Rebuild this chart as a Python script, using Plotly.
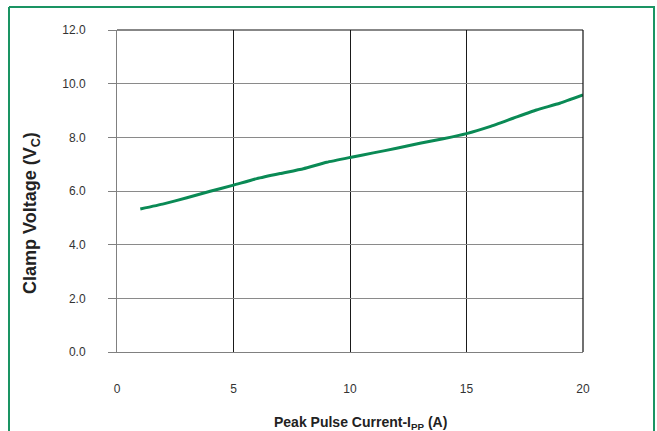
import plotly.graph_objects as go

current = [1, 2, 3, 4, 5, 6, 7, 8, 9, 10, 11, 12, 13, 14, 15, 16, 17, 18, 19, 20]
clamp_v = [5.33, 5.52, 5.75, 5.99, 6.22, 6.46, 6.65, 6.83, 7.07, 7.25,
           7.42, 7.59, 7.78, 7.95, 8.14, 8.40, 8.71, 9.02, 9.27, 9.58]
x_ticks = [0, 5, 10, 15, 20]
y_ticks = [0, 2, 4, 6, 8, 10, 12]
y_tick_text = ["0.0", "2.0", "4.0", "6.0", "8.0", "10.0", "12.0"]
x_title = "<b>Peak Pulse Current-I<sub>PP</sub> (A)</b>"
y_title = "<b>Clamp Voltage (V<sub>C</sub>)</b>"

W, H = 657, 431
L, R, T, B = 117, 74, 30, 79
pw, ph = W - L - R, H - T - B

def px(xp):
    return (xp - L) / pw

def py(yp):
    return (H - B - yp) / ph

fig = go.Figure()
fig.add_trace(go.Scatter(x=current, y=clamp_v, mode="lines",
                         line=dict(color="#0a8a55", width=3, shape="spline", smoothing=0.4),
                         showlegend=False, hoverinfo="skip"))

font_fam = "Liberation Sans, Arial, sans-serif"
border = dict(color="#1a9463", width=2)
fig.update_layout(
    width=W, height=H,
    margin=dict(l=L, r=R, t=T, b=B, autoexpand=False),
    paper_bgcolor="white", plot_bgcolor="white",
    font=dict(family=font_fam, size=12, color="#333333"),
    xaxis=dict(range=[0, 20], tickvals=x_ticks, showgrid=True, gridcolor="#1a1a1a", gridwidth=1,
               zeroline=False, showline=True, linecolor="#808080", linewidth=1, automargin=False,
               ticks="", ticklabelstandoff=26, tickfont=dict(family=font_fam, size=12, color="#333333")),
    yaxis=dict(range=[0, 12], tickvals=y_ticks, ticktext=y_tick_text, showgrid=True,
               gridcolor="#8a8a8a", gridwidth=1, zeroline=False, showline=True, automargin=False,
               linecolor="#808080", linewidth=1, ticks="outside", ticklen=8, tickcolor="#808080",
               ticklabelstandoff=20, tickfont=dict(family=font_fam, size=12, color="#333333")),
    annotations=[
        dict(text=x_title, xref="paper", yref="paper", x=px(360), y=py(422.5),
             xanchor="center", yanchor="middle", showarrow=False,
             font=dict(family=font_fam, size=14, color="#222222")),
        dict(text=y_title, xref="paper", yref="paper", x=px(31), y=py(213),
             xanchor="center", yanchor="middle", showarrow=False, textangle=-90,
             font=dict(family=font_fam, size=18, color="#222222")),
    ],
    shapes=[
        dict(type="line", xref="paper", yref="paper", x0=0, x1=1, y0=1, y1=1,
             line=dict(color="#111111", width=1.2)),
        dict(type="line", xref="paper", yref="paper", x0=1, x1=1, y0=0, y1=1,
             line=dict(color="#111111", width=1.2)),
        dict(type="line", xref="paper", yref="paper", x0=px(9), x1=px(655), y0=py(7), y1=py(7),
             line=border, layer="above"),
        dict(type="line", xref="paper", yref="paper", x0=px(9), x1=px(9), y0=py(7), y1=py(432),
             line=border, layer="above"),
        dict(type="line", xref="paper", yref="paper", x0=px(654), x1=px(654), y0=py(7), y1=py(432),
             line=border, layer="above"),
    ],
)

fig.write_html("out.html", config={"displayModeBar": False},
               post_script="document.documentElement.style.overflow='hidden';"
                           "document.body.style.margin='0';document.body.style.overflow='hidden';")
